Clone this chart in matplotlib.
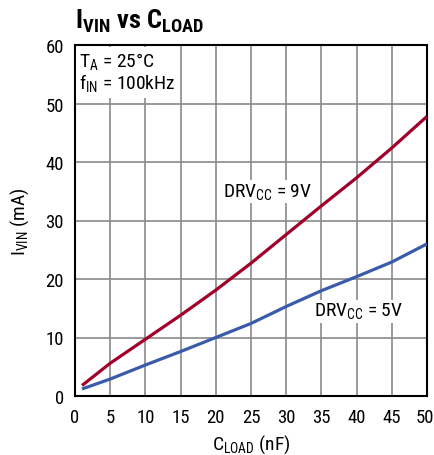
import matplotlib
matplotlib.use("Agg")
import matplotlib.pyplot as plt
from matplotlib import font_manager
from matplotlib.transforms import ScaledTranslation

names = {f.name for f in font_manager.fontManager.ttflist}
fam = next((n for n in ['Roboto Condensed', 'Archivo Narrow', 'PT Sans Narrow', 'Liberation Sans']
            if n in names), 'DejaVu Sans')
plt.rcParams['font.family'] = [fam, 'DejaVu Sans']
plt.rcParams['mathtext.fontset'] = 'custom'
plt.rcParams['mathtext.rm'] = fam
plt.rcParams['mathtext.bf'] = fam + ':bold'

c_load = [1, 5, 10, 15, 20, 25, 30, 35, 40, 45, 50]
i_9v = [1.8, 5.6, 9.7, 13.8, 18.1, 22.7, 27.6, 32.5, 37.3, 42.4, 47.8]
i_5v = [1.2, 2.9, 5.3, 7.6, 10.0, 12.4, 15.3, 18.0, 20.4, 22.9, 26.0]

FS = 14
TS = 13.5

fig = plt.figure(figsize=(4.35, 4.56), dpi=100)
ax = fig.add_axes([75/435, (456-397)/456, 352/435, 351/456])

ax.plot(c_load, i_9v, color='#A0002A', lw=2.3, solid_capstyle='butt', zorder=3)
ax.plot(c_load, i_5v, color='#3A5BAA', lw=2.3, solid_capstyle='butt', zorder=3)

ax.set_xlim(0, 50)
ax.set_ylim(0, 60)
ax.set_xticks(range(0, 51, 5))
ax.set_yticks(range(0, 61, 10))
ax.grid(True, color='#8a8a8a', lw=1.2)
ax.tick_params(length=0, labelsize=TS)
ax.tick_params(axis='x', pad=9)
ax.tick_params(axis='y', pad=8)
for s in ax.spines.values():
    s.set_linewidth(1.5)

last = ax.get_xticklabels()[-1]
last.set_transform(last.get_transform() + ScaledTranslation(-2/100, 0, fig.dpi_scale_trans))

ax.set_xlabel(r'C$_\mathregular{LOAD}$ (nF)', fontsize=FS, labelpad=4)
ax.set_ylabel(r'I$_\mathregular{VIN}$ (mA)', fontsize=FS, labelpad=10)

ax.text(0.6, 59.0, 'T$_\\mathregular{A}$ = 25°C\nf$_\\mathregular{IN}$ = 100kHz',
        fontsize=FS, va='top', ha='left', linespacing=1.0,
        bbox=dict(facecolor='white', edgecolor='none', pad=2.5), zorder=4)

ax.text(21, 34.9, r'DRV$_\mathregular{CC}$ = 9V', fontsize=FS, va='center', ha='left',
        bbox=dict(facecolor='white', edgecolor='none', pad=1), zorder=4)
ax.text(34, 14.5, r'DRV$_\mathregular{CC}$ = 5V', fontsize=FS, va='center', ha='left',
        bbox=dict(facecolor='white', edgecolor='none', pad=1), zorder=4)

fig.text(75/435, 1 - 21/456, r'I$_\mathbf{VIN}$ vs C$_\mathbf{LOAD}$',
         fontsize=19, fontweight='bold', va='center', ha='left')

fig.savefig('out.png', dpi=100)
